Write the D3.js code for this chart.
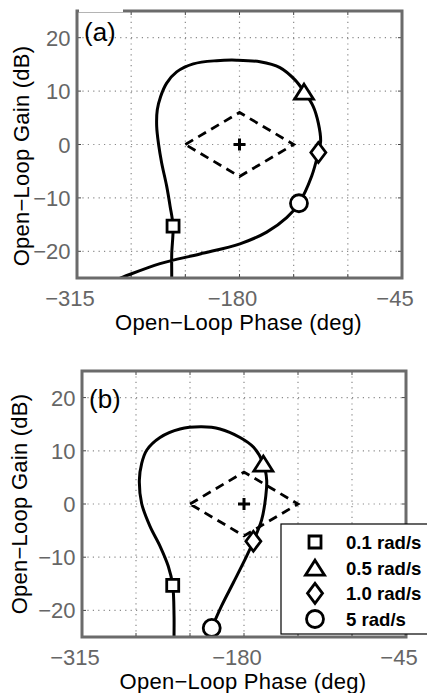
<!DOCTYPE html>
<html><head><meta charset="utf-8">
<script src="https://cdn.jsdelivr.net/npm/d3@7"></script>
<style>body{margin:0;background:#fff} svg{display:block}</style>
</head><body><svg id="c" width="427" height="693"></svg>
<script>
// ---------- data ----------
const phaseTicks = [-315, -180, -45];
const phaseGrid = [-270, -225, -180, -135, -90];
const gainTicks = [-20, -10, 0, 10, 20];
const phaseDomain = [-315, -45];
const gainDomain = [-25, 25];

const aPhase = [-236.5,-236.3,-236.3,-235.2,-237.7,-240.5,-244.7,-247.2,-248.8,-248.3,-245.5,-240.5,-232.2,-218.4,-199,-182.3,-163,-146.4,-133.9,-126.4,-118.7,-114.5,-112.6,-114.5,-120,-130.6,-140.8,-157.4,-179.6,-212.8,-246,-276.5,-290];
const aGain  = [-28,-24.8,-20.5,-15.3,-11.5,-7.8,-3.4,0,3.4,6.5,9.0,11.5,13.6,15.1,15.7,15.8,15.5,14.4,12.1,9.9,7.1,4.0,0.6,-1.5,-5.9,-11.0,-13.7,-16.4,-18.6,-20.5,-22.3,-24.8,-26];
const bPhase = [-238.3,-238.3,-238.3,-239.4,-243.1,-250,-258.3,-265.3,-267.2,-265.3,-261.1,-250,-233.3,-215.3,-200,-183.3,-172.2,-163.9,-161.1,-161.9,-165.3,-172.2,-177.8,-188.9,-198.6,-206.9];
const bGain  = [-28,-24.7,-21,-15.3,-11.7,-7.9,-4.2,0.1,4.5,7.6,10.1,12.5,14.1,14.5,14.1,12.5,10.7,7.6,4.5,1.4,-3.0,-7.0,-9.8,-14.8,-19.1,-23.3];

const markerNames  = ["0.1 rad/s", "0.5 rad/s", "1.0 rad/s", "5 rad/s"];
const markerShapes = ["square", "triangle", "diamond", "circle"];
const aMarkPhase = [-235.2, -126.4, -114.5, -130.6];
const aMarkGain  = [-15.3, 9.9, -1.5, -11.0];
const bMarkPhase = [-239.4, -163.9, -172.2, -206.9];
const bMarkGain  = [-15.3, 7.6, -7.0, -23.3];

const zonePhase = [-225, -180, -135, -180, -225];
const zoneGain  = [0, 6, 0, -6, 0];
const centerPhase = -180, centerGain = 0;

const xLabel = "Open\u2212Loop Phase (deg)";
const yLabel = "Open\u2212Loop Gain (dB)";
const fmt = v => (v < 0 ? "\u2212" + Math.abs(v) : String(v));

// ---------- drawing ----------
const svg = d3.select("#c");
const FONT = "'Liberation Sans', Arial, Helvetica, sans-serif";
const allPhase = [-315, -270, -225, -180, -135, -90, -45];

function markerPath(shape, cx, cy) {
  if (shape === "square") { const s = 6; return `M${cx-s},${cy-s}H${cx+s}V${cy+s}H${cx-s}Z`; }
  if (shape === "triangle") { const w = 9.5, h = 7.5; return `M${cx},${cy-h}L${cx+w},${cy+h}L${cx-w},${cy+h}Z`; }
  if (shape === "diamond") { const w = 7.5, h = 10; return `M${cx},${cy-h}L${cx+w},${cy}L${cx},${cy+h}L${cx-w},${cy}Z`; }
  const r = 8.5; return `M${cx+r},${cy}A${r},${r} 0 1 1 ${cx-r},${cy}A${r},${r} 0 1 1 ${cx+r},${cy}Z`;
}

function panel(cfg) {
  const x = d3.scaleLinear().domain(phaseDomain).range([cfg.x0, cfg.x1]);
  const y = d3.scaleLinear().domain(gainDomain).range([cfg.y1, cfg.y0]);
  const g = svg.append("g");
  const clipId = "clip" + cfg.id;
  svg.append("clipPath").attr("id", clipId).append("rect")
    .attr("x", cfg.x0).attr("y", cfg.y0).attr("width", cfg.x1 - cfg.x0).attr("height", cfg.y1 - cfg.y0);

  // grid
  g.selectAll(".vg").data(phaseGrid).join("line")
    .attr("x1", d => x(d)).attr("x2", d => x(d)).attr("y1", cfg.y0).attr("y2", cfg.y1)
    .attr("stroke", "#8a8a8a").attr("stroke-width", 1.2).attr("stroke-dasharray", "1.2,4.2");
  g.selectAll(".hg").data(gainTicks).join("line")
    .attr("y1", d => y(d)).attr("y2", d => y(d)).attr("x1", cfg.x0).attr("x2", cfg.x1)
    .attr("stroke", "#8a8a8a").attr("stroke-width", 1.2).attr("stroke-dasharray", "1.2,4.2");

  // small inward ticks
  const tk = g.append("g").attr("stroke", "#444").attr("stroke-width", 1);
  gainTicks.forEach(d => {
    tk.append("line").attr("x1", cfg.x0).attr("x2", cfg.x0 + 4).attr("y1", y(d)).attr("y2", y(d));
    tk.append("line").attr("x1", cfg.x1).attr("x2", cfg.x1 - 4).attr("y1", y(d)).attr("y2", y(d));
  });
  allPhase.forEach(d => {
    tk.append("line").attr("x1", x(d)).attr("x2", x(d)).attr("y1", cfg.y1).attr("y2", cfg.y1 - 4);
    tk.append("line").attr("x1", x(d)).attr("x2", x(d)).attr("y1", cfg.y0).attr("y2", cfg.y0 + 4);
  });

  // tick labels
  g.selectAll(".xt").data(phaseTicks).join("text")
    .attr("x", d => x(d) - 7).attr("y", cfg.y1 + 28)
    .attr("text-anchor", "middle").attr("font-family", FONT).attr("font-size", 22)
    .attr("fill", "#666").text(fmt);
  g.selectAll(".yt").data(gainTicks).join("text")
    .attr("x", cfg.x0 - 6.5).attr("y", d => y(d) + 8)
    .attr("text-anchor", "end").attr("font-family", FONT).attr("font-size", 22)
    .attr("fill", "#666").text(fmt);

  // axis titles
  g.append("text").attr("x", (cfg.x0 + cfg.x1) / 2 - 1).attr("y", cfg.y1 + 52)
    .attr("text-anchor", "middle").attr("font-family", FONT).attr("font-size", 22)
    .attr("letter-spacing", 0.25).attr("fill", "#000").text(xLabel);
  g.append("text").attr("transform", `translate(${cfg.ylx},${cfg.yly}) rotate(-90)`)
    .attr("text-anchor", "middle").attr("font-family", FONT).attr("font-size", 22)
    .attr("letter-spacing", 0.25).attr("fill", "#000").text(yLabel);

  const plot = g.append("g").attr("clip-path", `url(#${clipId})`);
  // dashed zone
  const line = d3.line().x(d => x(d[0])).y(d => y(d[1]));
  plot.append("path").datum(zonePhase.map((p, i) => [p, zoneGain[i]]))
    .attr("d", line).attr("fill", "none").attr("stroke", "#000").attr("stroke-width", 2.8)
    .attr("stroke-dasharray", "9,6");
  // center plus
  const cx = x(centerPhase), cy = y(centerGain);
  plot.append("path").attr("d", `M${cx-6},${cy}H${cx+6}M${cx},${cy-6}V${cy+6}`)
    .attr("stroke", "#000").attr("stroke-width", 3);
  // curve
  const curve = d3.line().x(d => x(d[0])).y(d => y(d[1])).curve(d3.curveCatmullRom.alpha(0.5));
  plot.append("path").datum(cfg.ph.map((p, i) => [p, cfg.ga[i]]))
    .attr("d", curve).attr("fill", "none").attr("stroke", "#000").attr("stroke-width", 3);
  // markers
  g.selectAll(".mk").data(markerShapes).join("path")
    .attr("d", (s, i) => markerPath(s, x(cfg.mp[i]), y(cfg.mg[i])))
    .attr("fill", "#fff").attr("stroke", "#000").attr("stroke-width", 2.8);

  // box
  g.append("rect").attr("x", cfg.x0).attr("y", cfg.y0).attr("width", cfg.x1 - cfg.x0).attr("height", cfg.y1 - cfg.y0)
    .attr("fill", "none").attr("stroke", "#6b6b6b").attr("stroke-width", 3);
  if (cfg.patch) {
    g.append("rect").attr("x", cfg.x0 + 2).attr("y", cfg.y0 - 2).attr("width", 44).attr("height", 3).attr("fill", "#fff");
  }
  // panel label
  g.append("text").attr("x", cfg.lx).attr("y", cfg.ly).attr("font-family", FONT).attr("font-size", 26)
    .attr("fill", "#000").text(cfg.label);
  return {x, y, g};
}

panel({id: "a", x0: 77, x1: 402, y0: 11, y1: 278, ph: aPhase, ga: aGain, mp: aMarkPhase, mg: aMarkGain,
       label: "(a)", lx: 84, ly: 41, ylx: 29, yly: 156, patch: true});
panel({id: "b", x0: 82, x1: 406, y0: 371, y1: 637, ph: bPhase, ga: bGain, mp: bMarkPhase, mg: bMarkGain,
       label: "(b)", lx: 89, ly: 408, ylx: 27, yly: 504, patch: false});

// legend
const lg = svg.append("g");
lg.append("rect").attr("x", 281).attr("y", 524).attr("width", 160).attr("height", 110)
  .attr("fill", "#fff").attr("stroke", "#000").attr("stroke-width", 1.2);
const rowY = d3.scalePoint().domain(markerNames).range([542, 619]);
lg.selectAll(".lm").data(markerShapes).join("path")
  .attr("d", (s, i) => markerPath(s, 315, rowY(markerNames[i])))
  .attr("fill", "#fff").attr("stroke", "#000").attr("stroke-width", 2.8);
lg.selectAll(".lt").data(markerNames).join("text")
  .attr("x", 346).attr("y", d => rowY(d) + 7)
  .attr("font-family", FONT).attr("font-size", 18.6).attr("font-weight", "bold")
  .attr("fill", "#000").text(d => d);
</script></body></html>
